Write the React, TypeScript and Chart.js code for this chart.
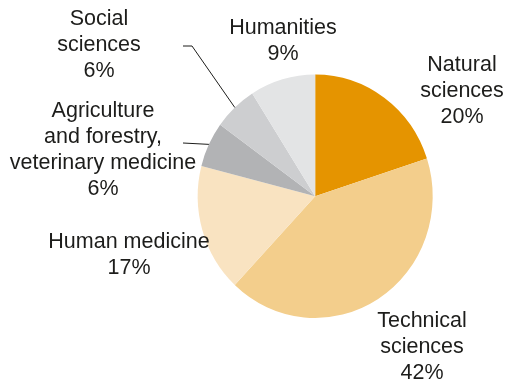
import React, { useEffect, useRef } from "react";
import { Chart, registerables } from "chart.js";

Chart.register(...registerables);

const categories: string[][] = [
  ["Natural", "sciences"],
  ["Technical", "sciences"],
  ["Human medicine"],
  ["Agriculture", "and forestry,", "veterinary medicine"],
  ["Social", "sciences"],
  ["Humanities"],
];
const shares: number[] = [20, 42, 17, 6, 6, 9];
const colors: string[] = ["#E59400", "#F3CE8C", "#F9E3C1", "#B2B3B5", "#CDCED0", "#E3E4E5"];

// label layout (offset of first baseline / centre x from pie centre)
const labelOffsets: [number, number][] = [
  [146.8, -125.2],
  [106.8, 130.8],
  [-186.2, 51.8],
  [-212.2, -79.7],
  [-216.2, -171.2],
  [-32.2, -162.2],
];
// leader lines: [index, startOffset, bendOffset]
const leaders: [number, [number, number], [number, number]][] = [
  [4, [-132.2, -150.2], [-123.2, -150.2]],
  [3, [-132.2, -53.2], [-113.2, -52.2]],
];

const SCALE_Y = 1.036;
const FONT = '21.5px "Liberation Sans", Arial, sans-serif';
const LINE_H = 26;

export default function App() {
  const ref = useRef<HTMLCanvasElement | null>(null);
  useEffect(() => {
    if (!ref.current) return;
    const ellipse = {
      id: "ellipse",
      beforeDatasetsDraw(chart: any) {
        const a = chart.getDatasetMeta(0).data[0];
        const ctx = chart.ctx;
        ctx.save();
        ctx.translate(a.x, a.y);
        ctx.scale(1, SCALE_Y);
        ctx.translate(-a.x, -a.y);
      },
      afterDatasetsDraw(chart: any) {
        chart.ctx.restore();
      },
    };
    const labels = {
      id: "labels",
      afterDraw(chart: any) {
        const meta = chart.getDatasetMeta(0);
        const ctx = chart.ctx;
        const cx = meta.data[0].x;
        const cy = meta.data[0].y;
        ctx.save();
        ctx.fillStyle = "#1d1d1b";
        ctx.font = FONT;
        ctx.textAlign = "center";
        ctx.textBaseline = "alphabetic";
        categories.forEach((lines, i) => {
          const [dx, dy] = labelOffsets[i];
          const all = [...lines, `${shares[i]}%`];
          all.forEach((t, k) => ctx.fillText(t, cx + dx, cy + dy + k * LINE_H));
        });
        ctx.strokeStyle = "#1d1d1b";
        ctx.lineWidth = 1;
        leaders.forEach(([i, s, b]) => {
          const arc = meta.data[i];
          const mid = (arc.startAngle + arc.endAngle) / 2;
          const ex = arc.x + Math.cos(mid) * arc.outerRadius;
          const ey = arc.y + Math.sin(mid) * arc.outerRadius * SCALE_Y;
          ctx.beginPath();
          ctx.moveTo(cx + s[0], cy + s[1]);
          ctx.lineTo(cx + b[0], cy + b[1]);
          ctx.lineTo(ex, ey);
          ctx.stroke();
        });
        ctx.restore();
      },
    };
    const chart = new Chart(ref.current, {
      type: "pie",
      data: {
        labels: categories.map((c) => c.join(" ")),
        datasets: [
          {
            data: shares,
            backgroundColor: colors,
            borderWidth: 0,
          },
        ],
      },
      options: {
        animation: false,
        responsive: false,
        layout: { padding: { left: 197.7, right: 72.3, top: 78.7, bottom: 68.3 } },
        plugins: { legend: { display: false }, tooltip: { enabled: false } },
      },
      plugins: [ellipse, labels],
    });
    return () => chart.destroy();
  }, []);
  return (
    <div style={{ position: "absolute", left: 0, top: 0, width: 505, height: 382, background: "#fff" }}>
      <canvas ref={ref} width={505} height={382} />
    </div>
  );
}
